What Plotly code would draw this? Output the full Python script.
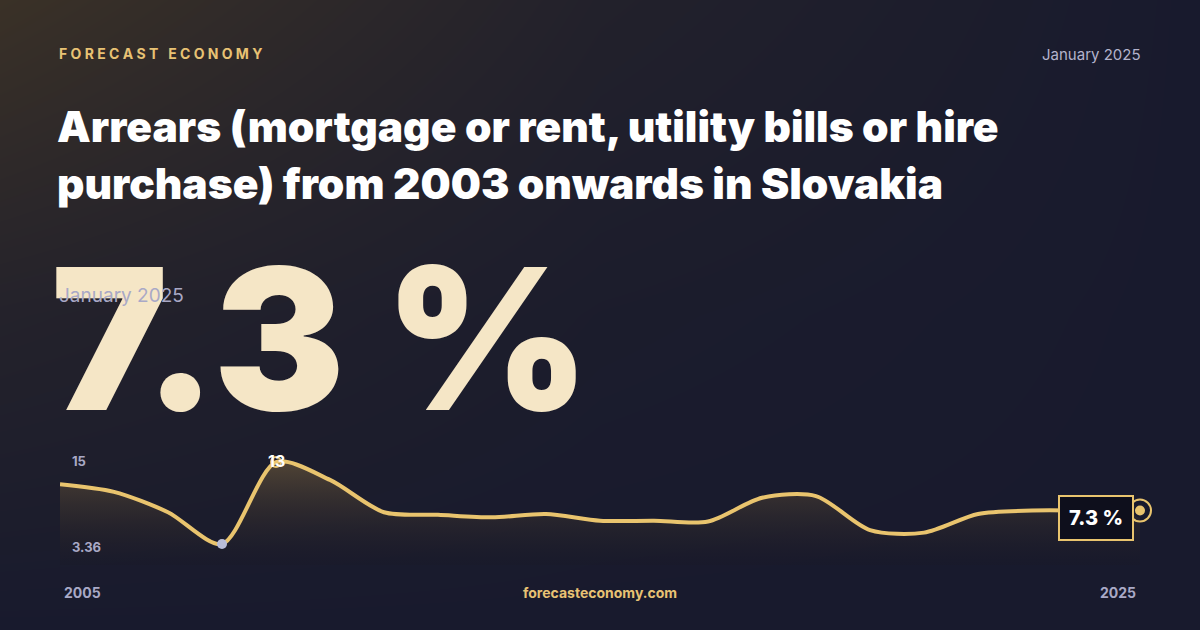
import plotly.graph_objects as go

years = list(range(2005, 2026))
values = [10.4, 9.5, 7.1, 3.36, 13.0, 10.9, 7.1, 6.8, 6.5, 6.9, 6.1, 6.1, 6.0, 8.8, 9.0, 5.0, 4.7, 6.9, 7.3, 7.3, 7.3]
min_label = "3.36"
max_label = "15"
peak_label = "13"
last_label = "7.3 %"

W, H = 1200, 630
def py(p):
    return 1 - p / H

fig = go.Figure()
fig.add_trace(go.Heatmap(z=[[0, 0, 0], [0.35, 0.1, 0], [1, 0.3, 0]], x=[0, 0.5, 1], y=[0, 0.5, 1],
                         zsmooth="best", showscale=False, hoverinfo="skip",
                         colorscale=[[0, "#181a2d"], [1, "#3a3127"]]))
fig.add_trace(go.Scatter(x=years, y=values, mode="lines", line=dict(color="#e9c46e", width=4, shape="spline", smoothing=0.8),
                         fill="tozeroy",
                         fillgradient=dict(type="vertical", colorscale=[[0, "rgba(20,20,35,0.2)"], [1, "rgba(90,75,55,0.85)"]]),
                         hoverinfo="skip", showlegend=False, xaxis="x2", yaxis="y2"))
fig.add_trace(go.Scatter(x=[2008], y=[3.36], mode="markers", marker=dict(color="#b9bdd8", size=10), xaxis="x2", yaxis="y2"))
fig.add_trace(go.Scatter(x=[2009], y=[13.0], mode="markers", marker=dict(color="rgba(0,0,0,0)", size=10, line=dict(color="#e9c46e", width=2)), xaxis="x2", yaxis="y2"))
fig.add_trace(go.Scatter(x=[2025], y=[7.3], mode="markers", marker=dict(color="#e9c46e", size=12, line=dict(color="#1b1c2e", width=2)), cliponaxis=False, xaxis="x2", yaxis="y2"))
fig.add_trace(go.Scatter(x=[2025], y=[7.3], mode="markers", marker=dict(color="rgba(0,0,0,0)", size=22, line=dict(color="#e9c46e", width=2)), cliponaxis=False, xaxis="x2", yaxis="y2"))

ann = []
def A(text, x, y, size, color, xanchor="left", family="Inter", weight=None, **kw):
    f = dict(size=size, color=color, family=family)
    if weight:
        f["weight"] = weight
    ann.append(dict(text=text, x=x / W, y=py(y), xref="paper", yref="paper", showarrow=False,
                    xanchor=xanchor, yanchor="middle", font=f, **kw))

A("<b>F O R E C A S T   E C O N O M Y</b>", 57, 53, 14, "#e8c274")
A("January 2025", 1143, 54, 15, "#b3b3cc", xanchor="right")
A("Arrears (mortgage or rent, utility bills or hire", 55, 127, 42.5, "#ffffff", weight=900)
A("purchase) from 2003 onwards in Slovakia", 55, 183, 42.5, "#ffffff", weight=900)
A("7.3 %", 49, 338, 197, "#f5e6c6", weight=900)
A("January 2025", 57, 295, 19, "#a9a9c6")
A("<b>" + max_label + "</b>", 70, 461, 13, "#a9a9c6")
A("<b>" + min_label + "</b>", 70, 547, 13, "#a9a9c6")
A("<b>" + peak_label + "</b>", 276, 461, 16, "#ffffff", xanchor="center")
A("<b>2005</b>", 62, 592, 14, "#a9a9c6")
A("<b>2025</b>", 1138, 592, 14, "#a9a9c6", xanchor="right")
A("<b>forecasteconomy.com</b>", 600, 592, 14, "#e8c274", xanchor="center")
A(last_label, 1096, 518, 20, "#ffffff", xanchor="center", weight=800,
  bgcolor="#0e0f1c", bordercolor="#e9c46e", borderwidth=2, borderpad=9)

fig.update_layout(
    width=W, height=H, margin=dict(l=0, r=0, t=0, b=0),
    paper_bgcolor="#181a2d", plot_bgcolor="rgba(0,0,0,0)",
    annotations=ann,
    xaxis=dict(domain=[0, 1], range=[0, 1], visible=False, fixedrange=True),
    yaxis=dict(domain=[0, 1], range=[0, 1], visible=False, fixedrange=True),
    xaxis2=dict(domain=[60 / W, 1140 / W], range=[2005, 2025], visible=False, fixedrange=True, anchor="y2"),
    yaxis2=dict(domain=[py(565), py(440)], range=[0.89, 15.6], visible=False, fixedrange=True, anchor="x2"),
    showlegend=False,
)
fig.write_html("out.html", config={"displayModeBar": False})
with open("out.html", encoding="utf-8") as fh:
    page = fh.read()
page = page.replace("<head>", "<head><style>html,body{margin:0;padding:0;overflow:hidden;background:#181a2d}</style>", 1)
with open("out.html", "w", encoding="utf-8") as fh:
    fh.write(page)
